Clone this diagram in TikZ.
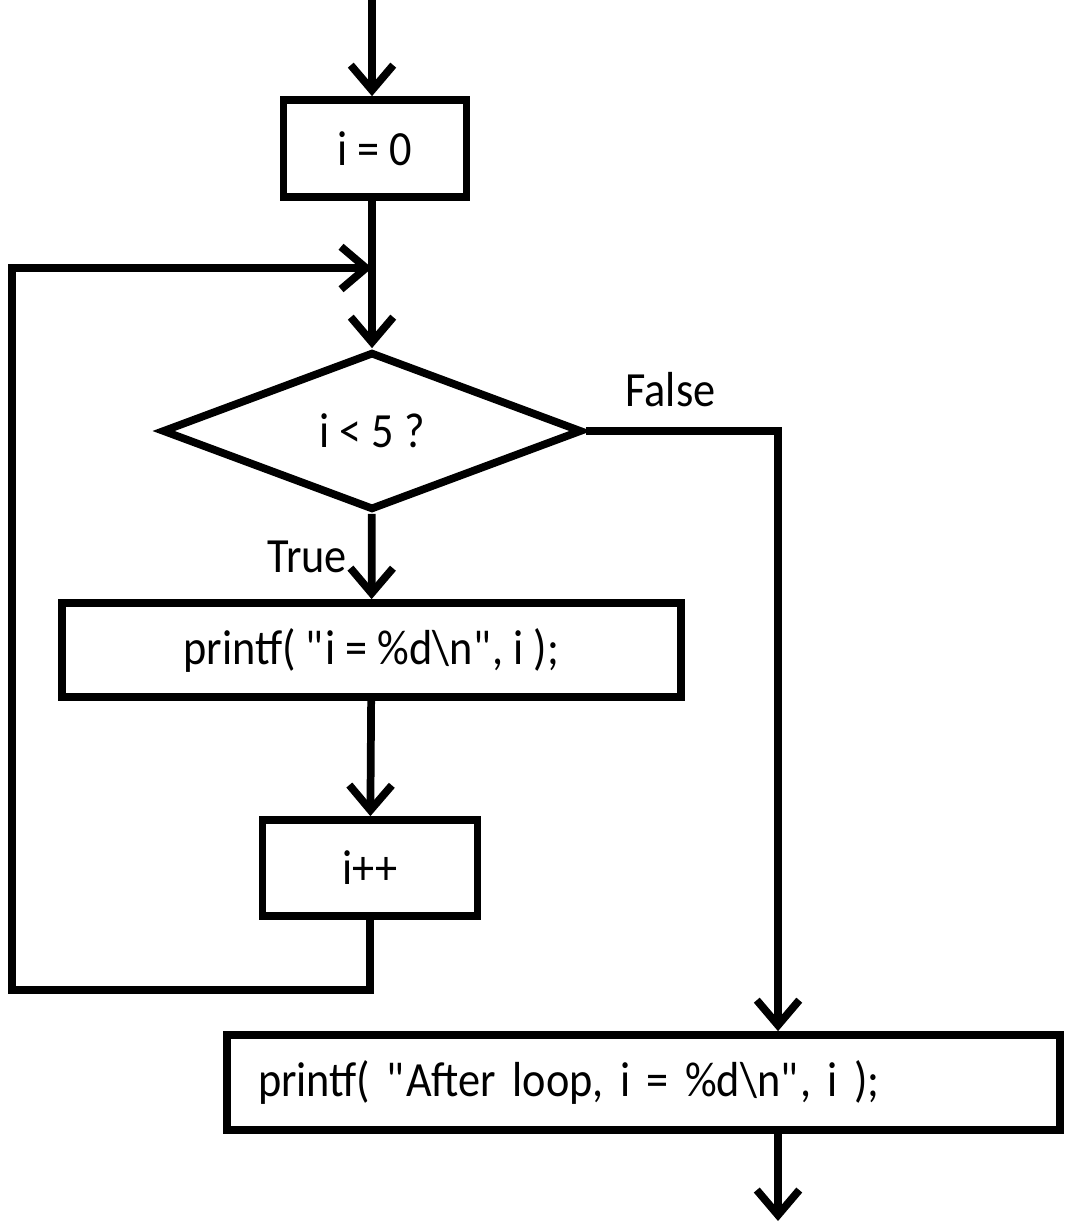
\documentclass[tikz,border=0pt]{standalone}
\usepackage{fontspec}
\setmainfont{Carlito}[FakeStretch=0.9]
\usetikzlibrary{shapes.geometric,arrows.meta}

\begin{document}
\begin{tikzpicture}[
    block/.style={
      draw,
      rectangle,
      line width=4.4pt,
      inner sep=0pt,
      font=\fontsize{28}{32}\selectfont
      },
    decision/.style={
      draw,
      diamond,
      line width=4.4pt,
      inner sep=0pt,
      font=\fontsize{28}{32}\selectfont
      },
    flow/.style={
      line width=4.4pt
      },
    tag/.style={
      font=\fontsize{28}{32}\selectfont
      },
    >={Straight Barb[length=0.5cm,width=0.85cm]}
    ]
    \useasboundingbox (0,0) rectangle (21.28,-24.52);
    % nodes
    \node[block, minimum width=3.66cm, minimum height=1.94cm] (init) at (7.5,-2.97) {i = 0};
    \node[decision, minimum width=8.4cm, minimum height=3.16cm] (test) at (7.44,-8.62) {i < 5 ?};
    \node[block, minimum width=12.38cm, minimum height=1.88cm] (body) at (7.43,-13.0) {printf( \textquotedbl i = \%d\textbackslash n\textquotedbl, i );};
    \node[block, minimum width=4.3cm, minimum height=1.92cm] (incr) at (7.4,-17.36) {i++};
    \node[block, minimum width=16.66cm, minimum height=1.9cm, text width=15.42cm, align=left,
      inner xsep=0.62cm] (after) at (12.87,-21.65) {printf( \textquotedbl After loop, i = \%d\textbackslash n\textquotedbl, i );};
    \coordinate (entry) at (7.44,0);
    \coordinate (join) at (7.44,-5.36);
    \coordinate (back) at (0.24,-19.8);
    \coordinate (exit) at (15.56,-24.42);
    % connectors
    \draw[flow,->] (entry) -- (entry |- init.north);
    \draw[flow] (join |- init.south) -- (join);
    \draw[flow,->] (join) -- (test);
    \draw[flow,->] (test) -- node[tag, midway, left, xshift=-0.3cm] {True} (body);
    \draw[flow,->] (body) -- (incr);
    \draw[flow,->] (incr) |- (back) |- (join);
    \draw[flow,->] (test.east) -| node[tag, pos=0.22, above, yshift=0.28cm] {False} ([xshift=2.69cm]after.north);
    \draw[flow,->] ([xshift=2.69cm]after.south) -- (exit);
\end{tikzpicture}
\end{document}
